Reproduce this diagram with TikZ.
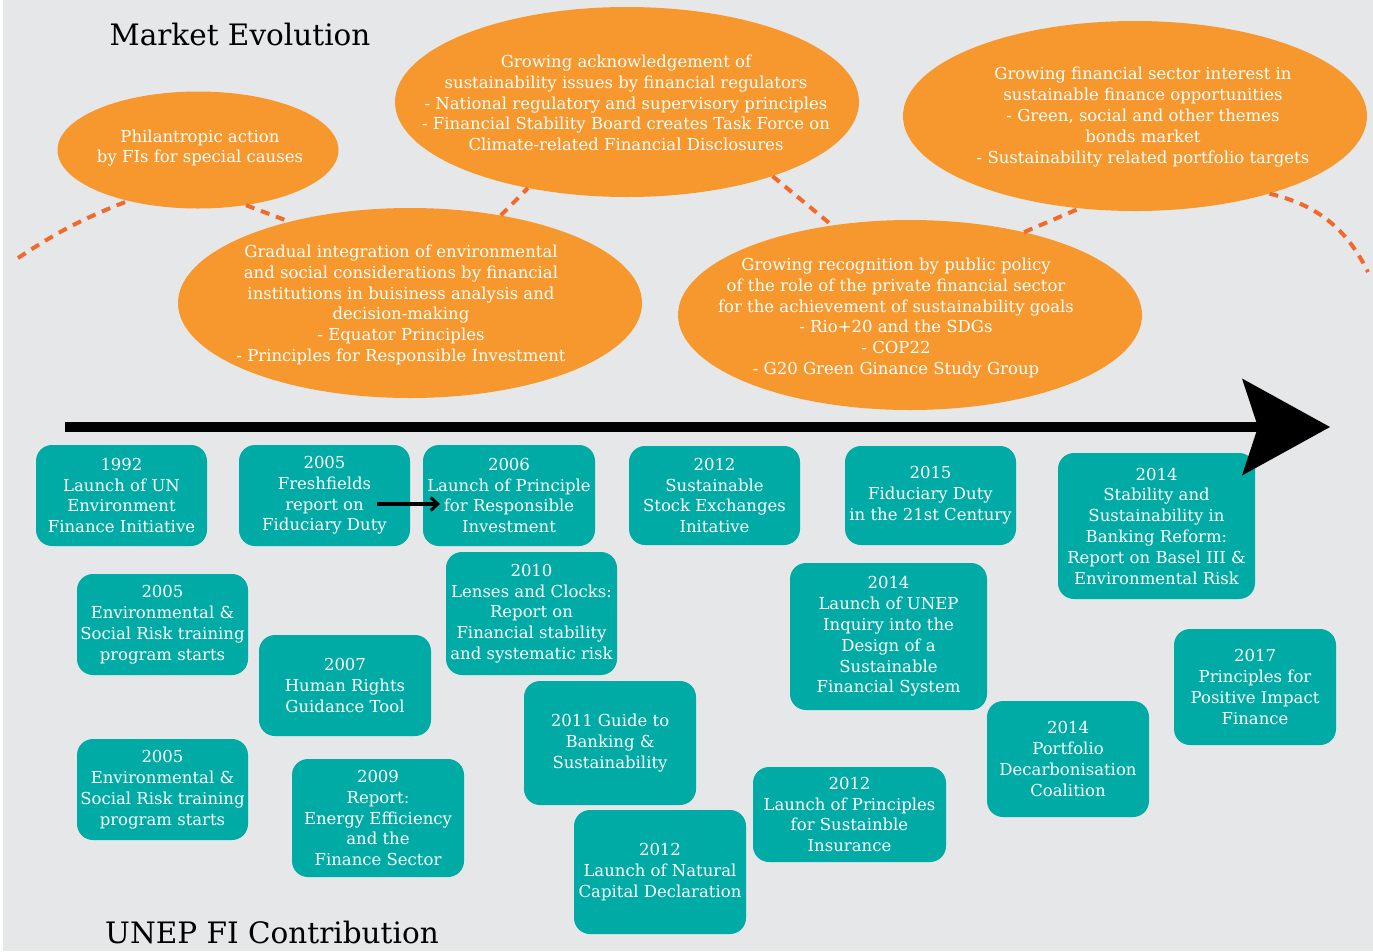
\documentclass[tikz,border=0pt]{standalone}
\usepackage{fontspec}
\setmainfont{DejaVu Serif}
\usetikzlibrary{arrows.meta, shapes.geometric, calc}

\definecolor{pagegray}{HTML}{E6E7E8}
\definecolor{bubbleorange}{HTML}{F7982E}
\definecolor{linkorange}{HTML}{F26A2B}
\definecolor{unepteal}{HTML}{00ABA6}

\newcommand{\milefont}{\fontsize{16.5}{20.8}\selectfont}
\newcommand{\headfont}{\fontsize{29.5}{34}\selectfont}

\tikzset{
  bubble/.style={ellipse, fill=bubbleorange, inner sep=0pt, minimum width=464pt, minimum height=190pt},
  bubbletext/.style={text=white, align=center, font=\milefont, inner sep=0pt},
  milestone/.style={fill=unepteal, rounded corners=16pt, text=white, align=center, font=\milefont,
    inner sep=2pt, minimum width=171pt, minimum height=101pt},
  wave/.style={draw=linkorange, line width=4pt, dash pattern=on 9pt off 7pt},
  heading/.style={font=\headfont, anchor=base},
}

\begin{document}
\begin{tikzpicture}[x=1pt, y=-1pt]
  \useasboundingbox (0,0) rectangle (1373,951);
  \fill[white] (0,0) rectangle (1373,951);
  \fill[pagegray] (3,0) rectangle (1373,951);

  \node[heading] (market) at (240,45) {Market Evolution};
  \node[heading] (unepfi) at (272,943) {UNEP FI Contribution};

  % market evolution bubbles
  \node[bubble, minimum width=281pt, minimum height=117pt] (phil) at (198,150) {};
  \node[bubble] (integr) at (410,303) {};
  \node[bubble] (regul) at (627,102) {};
  \node[bubble] (policy) at (910,315) {};
  \node[bubble] (interest) at (1135,116) {};

  \node[bubbletext] (philtext) at ([xshift=2pt,yshift=2pt]phil.center)
    {Philantropic action\\by FIs for special causes};
  \node[bubbletext] (integrtext) at ([xshift=-9pt,yshift=-2pt]integr.center)
    {Gradual integration of environmental\\and social considerations by financial\\institutions in buisiness analysis and\\decision-making\\- Equator Principles\\- Principles for Responsible Investment};
  \node[bubbletext] (regultext) at ([xshift=-1pt,yshift=-1pt]regul.center)
    {Growing acknowledgement of\\sustainability issues by financial regulators\\- National regulatory and supervisory principles\\- Financial Stability Board creates Task Force on\\Climate-related Financial Disclosures};
  \node[bubbletext] (policytext) at ([xshift=-14pt,yshift=-3pt]policy.center)
    {Growing recognition by public policy\\of the role of the private financial sector\\for the achievement of sustainability goals\\- Rio+20 and the SDGs\\- COP22\\- G20 Green Ginance Study Group};
  \node[bubbletext] (interesttext) at ([xshift=8pt,yshift=-1pt]interest.center)
    {Growing financial sector interest in\\sustainable finance opportunities\\- Green, social and other themes\\bonds market\\- Sustainability related portfolio targets};

  % dashed wave between bubbles
  \coordinate (wavestart) at (18,258);
  \coordinate (waveend) at (1368,272);
  \draw[wave] (wavestart) to[bend left=6] (phil.216);
  \draw[wave] (phil.-49) -- (integr.146);
  \draw[wave] (integr.44) -- (regul.221);
  \draw[wave] (regul.-27) -- (policy.131);
  \draw[wave] (policy.36) -- (interest.239);
  \draw[wave] (interest.-30) to[bend left=25] (waveend);

  % UNEP FI milestones
  \node[milestone] (launchfi) at (121.5,495.5) {1992\\Launch of UN\\Environment\\Finance Initiative};
  \node[milestone] (fresh) at (324.5,495.5) {2005\\Freshfields\\report on\\Fiduciary Duty};
  \node[milestone, minimum width=172pt] (pri) at (509,495.5) {2006\\Launch of Principle\\for Responsible\\Investment};
  \node[milestone, minimum height=99pt] (sse) at (714.5,495.5) {2012\\Sustainable\\Stock Exchanges\\Initative};
  \node[milestone, minimum height=99pt] (fidduty) at (930.5,495.5) {2015\\Fiduciary Duty\\in the 21st Century};
  \node[milestone, minimum width=197pt, minimum height=146pt] (basel) at (1156.5,526)
    {2014\\Stability and\\Sustainability in\\Banking Reform:\\Report on Basel III \&\\Environmental Risk};
  \node[milestone] (esrisk) at (162.5,624.5) {2005\\Environmental \&\\Social Risk training\\program starts};
  \node[milestone, minimum width=172pt] (rights) at (345,685.5) {2007\\Human Rights\\Guidance Tool};
  \node[milestone, minimum height=123pt] (lenses) at (531.5,613.5)
    {2010\\Lenses and Clocks:\\Report on\\Financial stability\\and systematic risk};
  \node[milestone, minimum width=197pt, minimum height=147pt] (inquiry) at (888.5,636.5)
    {2014\\Launch of UNEP\\Inquiry into the\\Design of a\\Sustainable\\Financial System};
  \node[milestone, minimum width=172pt, minimum height=124pt] (guide) at (610,743)
    {2011 Guide to\\Banking \&\\Sustainability};
  \node[milestone] (esrisktwo) at (162.5,789.5) {2005\\Environmental \&\\Social Risk training\\program starts};
  \node[milestone, minimum width=172pt, minimum height=118pt] (energy) at (378,818)
    {2009\\Report:\\Energy Efficiency\\and the\\Finance Sector};
  \node[milestone, minimum width=172pt, minimum height=124pt] (natcap) at (660,872)
    {2012\\Launch of Natural\\Capital Declaration};
  \node[milestone, minimum width=193pt, minimum height=95pt] (psi) at (849.5,814.5)
    {2012\\Launch of Principles\\for Sustainble\\Insurance};
  \node[milestone, minimum width=162pt, minimum height=116pt] (pdc) at (1068,759)
    {2014\\Portfolio\\Decarbonisation\\Coalition};
  \node[milestone, minimum width=162pt, minimum height=116pt] (pif) at (1255,687)
    {2017\\Principles for\\Positive Impact\\Finance};

  % link and time arrow
  \coordinate (linkstart) at (377,504);
  \coordinate (linkend) at (440,504);
  \draw[line width=3.5pt, -{Straight Barb[length=7pt, width=13pt, line width=3pt]}] (linkstart) -- (linkend);
  \coordinate (timestart) at (65,427);
  \coordinate (timeend) at (1330,427);
  \draw[line width=10pt, -{Stealth[length=88pt, width=97pt, inset=16pt, line width=0pt]}] (timestart) -- (timeend);
\end{tikzpicture}
\end{document}
